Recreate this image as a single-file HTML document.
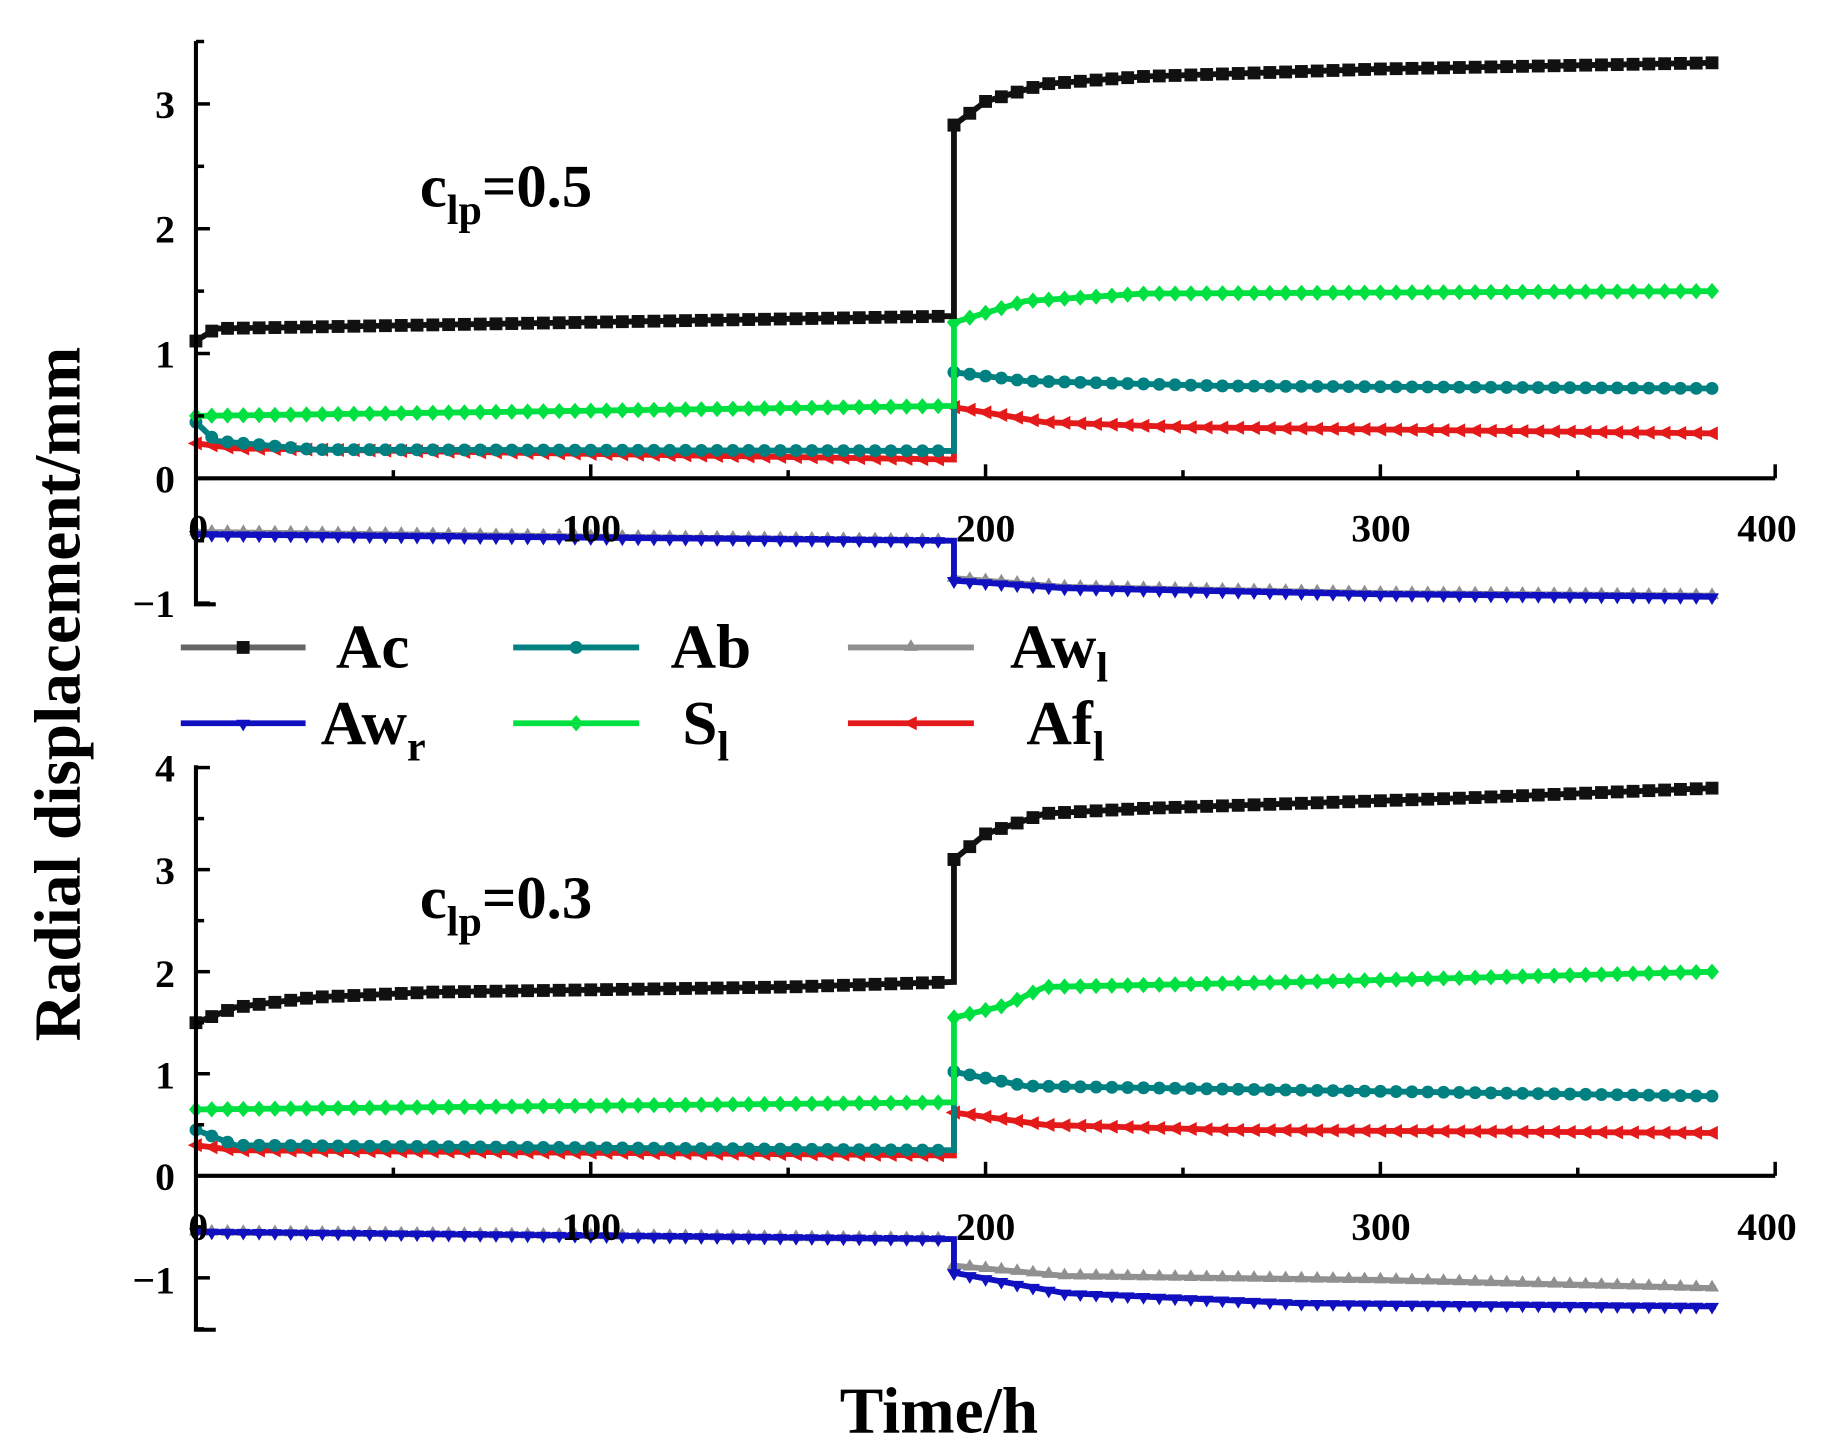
<!DOCTYPE html>
<html><head><meta charset="utf-8">
<style>
html,body{margin:0;padding:0;background:#fff;}
svg{display:block;}
text{font-family:"Liberation Serif",serif;font-weight:bold;fill:#000;}
</style></head>
<body>
<svg id="s" width="1823" height="1450" viewBox="0 0 1563 1243" xmlns="http://www.w3.org/2000/svg">
<g id="plots"></g>
<g stroke="#000" stroke-width="3.5" fill="none">
<path d="M168,35 V518 H185"/>
<path d="M168,410 H1522"/>
<path d="M168,656 V1140 H185"/>
<path d="M168,1008 H1522"/>
</g>
<g id="ticks" stroke="#000" stroke-width="3"></g>
<g font-size="34" text-anchor="end">
<text x="150" y="101">3</text><text x="150" y="208">2</text><text x="150" y="315">1</text><text x="150" y="422">0</text><text x="150" y="529">−1</text>
<text x="150" y="670">4</text><text x="150" y="758">3</text><text x="150" y="846">2</text><text x="150" y="933">1</text><text x="150" y="1020">0</text><text x="150" y="1109">−1</text>
</g>
<g font-size="34" text-anchor="middle">
<text x="170" y="464">0</text><text x="507" y="464">100</text><text x="845" y="464">200</text><text x="1184" y="464">300</text><text x="1515" y="464">400</text>
<text x="170" y="1063">0</text><text x="507" y="1063">100</text><text x="845" y="1063">200</text><text x="1184" y="1063">300</text><text x="1515" y="1063">400</text>
</g>
<text x="360" y="177" font-size="52">c<tspan font-size="36" dy="15">lp</tspan><tspan dy="-15">=0.5</tspan></text>
<text x="360" y="787" font-size="52">c<tspan font-size="36" dy="15">lp</tspan><tspan dy="-15">=0.3</tspan></text>
<text transform="translate(68,595) rotate(-90)" font-size="56" text-anchor="middle">Radial displacement/mm</text>
<text x="805" y="1228" font-size="56" text-anchor="middle">Time/h</text>
<g id="legend"></g>
<g font-size="54">
<text x="288" y="572">Ac</text>
<text x="575" y="572">Ab</text>
<text x="866" y="572">Aw<tspan font-size="36" dy="12">l</tspan></text>
<text x="275" y="638">Aw<tspan font-size="36" dy="14">r</tspan></text>
<text x="585" y="638">S<tspan font-size="36" dy="14">l</tspan></text>
<text x="880" y="638">Af<tspan font-size="36" dy="14">l</tspan></text>
</g>
</svg>
<script>
var NS="http://www.w3.org/2000/svg";
function el(n,a,p){var e=document.createElementNS(NS,n);for(var k in a)e.setAttribute(k,a[k]);p.appendChild(e);return e;}
var plots=document.getElementById('plots'),ticks=document.getElementById('ticks'),leg=document.getElementById('legend');
[[410,0],[1008,0]].forEach(function(p){for(var t=50;t<=400;t+=50){var x=168+t*3.385;el('line',{x1:x,y1:p[0],x2:x,y2:p[0]-(t%100?7:12)},ticks);}});
[[410,107,35,518],[1008,87.5,656,1140]].forEach(function(p){for(var v=-1.5;v<=4;v+=0.5){var y=p[0]-v*p[1];if(y<p[2]-1||y>p[3]+1)continue;el('line',{x1:168,y1:y,x2:168+(v%1?7:12),y2:y},ticks);}});
function interp(pts,t){for(var i=1;i<pts.length;i++){if(t<=pts[i][0]){var a=pts[i-1],b=pts[i];if(b[0]==a[0])return b[1];return a[1]+(b[1]-a[1])*(t-a[0])/(b[0]-a[0]);}}return pts[pts.length-1][1];}
function series(pts,y0,sc,col,mk){
 var d="";
 var pre=pts.filter(function(p){return p[0]<=192&&!p[2]});var post=pts.filter(function(p){return p[0]>=192&&p[2]});
 var all=pre.concat(post);
 all.forEach(function(p,i){var x=168+p[0]*3.385,y=y0-p[1]*sc;d+=(i?"L":"M")+x.toFixed(1)+","+y.toFixed(1);});
 el('path',{d:d,stroke:col,'stroke-width':5,fill:'none'},plots);
 for(var t=0;t<=385;t+=4){var src=t<=190?pre:post;var v=interp(src,t);var x=168+t*3.385,y=y0-v*sc;marker(x,y,col,mk,plots);}
 marker(168+192*3.385,y0-interp(post,192)*sc,col,mk,plots);
}
function marker(x,y,col,mk,p){
 if(mk=='sq')el('rect',{x:x-5.5,y:y-5.5,width:11,height:11,fill:col},p);
 else if(mk=='c')el('circle',{cx:x,cy:y,r:5.5,fill:col},p);
 else if(mk=='d')el('path',{d:"M"+x+","+(y-7)+"L"+(x+6)+","+y+"L"+x+","+(y+7)+"L"+(x-6)+","+y+"Z",fill:col},p);
 else if(mk=='dn')el('path',{d:"M"+(x-6)+","+(y-3)+"L"+(x+6)+","+(y-3)+"L"+x+","+(y+7)+"Z",fill:col},p);
 else if(mk=='up')el('path',{d:"M"+(x-6)+","+(y+3)+"L"+(x+6)+","+(y+3)+"L"+x+","+(y-7)+"Z",fill:col},p);
 else if(mk=='l')el('path',{d:"M"+(x-7)+","+y+"L"+(x+5)+","+(y-6)+"L"+(x+5)+","+(y+6)+"Z",fill:col},p);
}
var BK="#111",TE="#008080",GR="#909090",BL="#1010c0",GN="#00e040",RD="#e41a1a";
var T=[
 [GR,'up',[[0,-0.43],[192,-0.5],[192,-0.8,1],[220,-0.87,1],[300,-0.92,1],[385,-0.94,1]]],
 [BL,'dn',[[0,-0.45],[192,-0.5],[192,-0.82,1],[220,-0.88,1],[300,-0.93,1],[385,-0.95,1]]],
 [RD,'l',[[0,0.28],[10,0.24],[192,0.15],[192,0.57,1],[215,0.45,1],[250,0.41,1],[385,0.36,1]]],
 [TE,'c',[[0,0.45],[5,0.3],[30,0.23],[192,0.22],[192,0.85,1],[210,0.78,1],[260,0.74,1],[385,0.72,1]]],
 [GN,'d',[[0,0.5],[192,0.58],[192,1.25,1],[210,1.42,1],[240,1.48,1],[385,1.5,1]]],
 [BK,'sq',[[0,1.1],[5,1.2],[192,1.3],[192,2.83,1],[200,3.02,1],[215,3.16,1],[240,3.22,1],[300,3.28,1],[385,3.33,1]]]
];
T.forEach(function(s){series(s[2],410,107,s[0],s[1]);});
var B=[
 [GR,'up',[[0,-0.55],[192,-0.62],[192,-0.88,1],[220,-0.98,1],[300,-1.02,1],[385,-1.1,1]]],
 [BL,'dn',[[0,-0.55],[192,-0.62],[192,-0.95,1],[220,-1.15,1],[280,-1.25,1],[385,-1.28,1]]],
 [RD,'l',[[0,0.3],[10,0.25],[192,0.2],[192,0.62,1],[215,0.5,1],[260,0.45,1],[385,0.42,1]]],
 [TE,'c',[[0,0.45],[10,0.3],[192,0.25],[192,1.02,1],[210,0.88,1],[260,0.85,1],[385,0.78,1]]],
 [GN,'d',[[0,0.65],[192,0.72],[192,1.55,1],[205,1.67,1],[215,1.85,1],[280,1.9,1],[385,2.0,1]]],
 [BK,'sq',[[0,1.5],[10,1.65],[30,1.75],[60,1.8],[150,1.85],[192,1.9],[192,3.1,1],[200,3.35,1],[215,3.55,1],[240,3.6,1],[280,3.65,1],[320,3.7,1],[385,3.8,1]]]
];
B.forEach(function(s){series(s[2],1008,87.5,s[0],s[1]);});
[[155,262,555,"#666",'sq',BK],[440,548,555,TE,'c',TE],[727,835,555,GR,'up',GR],[155,262,620,BL,'dn',BL],[440,548,620,GN,'d',GN],[727,835,620,RD,'l',RD]].forEach(function(l){
 el('line',{x1:l[0],y1:l[2],x2:l[1],y2:l[2],stroke:l[3],'stroke-width':5},leg);marker((l[0]+l[1])/2,l[2],l[5],l[4],leg);});
</script>
</body></html>
